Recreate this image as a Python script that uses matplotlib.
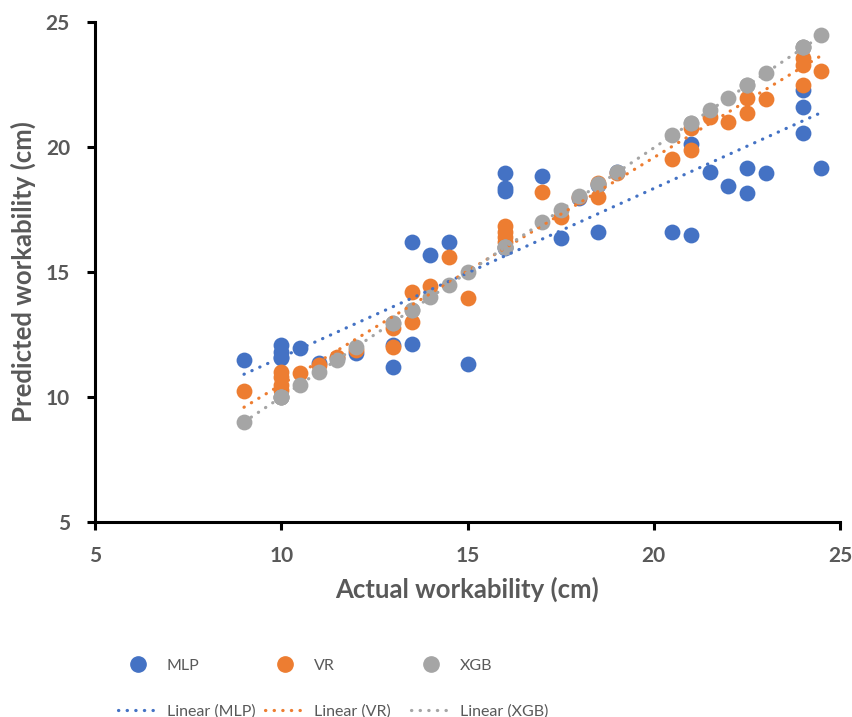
import matplotlib.pyplot as plt
import numpy as np
from matplotlib.lines import Line2D

# actual workability (cm), one entry per sample
actual = [9, 10, 10, 10, 10, 10.5, 11, 11.5, 12, 13, 13, 13.5, 13.5, 14, 14.5, 15,
          16, 16, 16, 16, 17, 17.5, 18, 18.5, 18.5, 19, 20.5, 21, 21, 21.5, 22,
          22.5, 22.5, 23, 24, 24, 24, 24.5]

# predicted workability (cm) per model
mlp = [11.48, 12.08, 11.8, 11.55, 11.6, 11.96, 11.36, 11.56, 11.76, 11.2, 12.1,
       12.12, 16.21, 15.68, 16.21, 11.32, 18.95, 18.35, 18.25, 15.95, 18.85, 16.37,
       17.95, 16.61, 18.5, 19.01, 16.59, 16.48, 20.12, 19.01, 18.45, 19.15, 18.15,
       18.95, 20.57, 21.61, 22.28, 19.17]
vr = [10.24, 11.0, 10.8, 10.5, 10.3, 10.96, 11.3, 11.6, 11.9, 12.01, 12.75,
      13.01, 14.21, 14.44, 15.61, 13.97, 16.85, 16.6, 16.4, 16.2, 18.19, 17.19,
      18.0, 18.01, 18.57, 18.95, 19.51, 19.88, 20.75, 21.21, 21.01, 21.35, 21.97,
      21.92, 22.48, 23.28, 23.55, 23.05]
xgb = [9.0, 10.0, 10.0, 10.0, 10.0, 10.5, 11.0, 11.5, 12.0, 12.97, 12.97,
       13.48, 13.48, 14.01, 14.48, 14.99, 15.99, 15.99, 15.99, 15.99, 16.99, 17.48,
       18.04, 18.51, 18.51, 18.99, 20.48, 20.97, 20.97, 21.48, 21.97, 22.48, 22.48,
       22.97, 23.99, 23.99, 23.99, 24.48]

# linear trendline values at x = 9 and x = 24.5
trend_x = [9, 24.5]
trend_mlp = [10.91, 21.38]
trend_vr = [9.59, 23.66]
trend_xgb = [9.0, 24.45]

names = ['MLP', 'VR', 'XGB']
colors = ['#4472C4', '#ED7D31', '#A5A5A5']
dots = (0, (0.1, 2.6))

plt.rcParams['font.family'] = ['Lato', 'DejaVu Sans']

fig = plt.figure(figsize=(8.52, 7.17), dpi=100)
ax = fig.add_axes([95 / 852, 1 - 522 / 717, 745 / 852, 500 / 717])

legend_x = [118 / 852, 265 / 852, 411 / 852]
for i, (name, pred, trend, col) in enumerate(zip(names, [mlp, vr, xgb],
                                                 [trend_mlp, trend_vr, trend_xgb],
                                                 colors)):
    ax.scatter(actual, pred, s=130, color=col, zorder=2, linewidths=0)
    ax.plot(trend_x, trend, color=col, lw=2.3, linestyle=dots,
            dash_capstyle='round', zorder=3)
    # one small legend per column so the columns sit where they do in the original
    h = [Line2D([], [], marker='o', ms=11, color=col, lw=0),
         Line2D([], [], color=col, lw=2.3, linestyle=dots, dash_capstyle='round')]
    fig.legend(h, [name, 'Linear (%s)' % name], loc='lower left',
               bbox_to_anchor=(legend_x[i], -0.002), frameon=False,
               borderpad=0, borderaxespad=0, fontsize=11.5,
               labelcolor='#595959', handlelength=2.5, handletextpad=0.55,
               labelspacing=1.95)

ax.set_xlim(5, 25)
ax.set_ylim(5, 25)
ax.set_xticks([5, 10, 15, 20, 25])
ax.set_yticks([5, 10, 15, 20, 25])
for s in ['top', 'right']:
    ax.spines[s].set_visible(False)
for s in ['left', 'bottom']:
    ax.spines[s].set_linewidth(2.2)
    ax.spines[s].set_color('black')
ax.tick_params(direction='out', length=6, width=2.2, color='black',
               labelsize=15, labelcolor='#595959')
ax.tick_params(axis='x', pad=11)
ax.tick_params(axis='y', pad=12)
for lab in ax.get_xticklabels() + ax.get_yticklabels():
    lab.set_fontweight('bold')

ax.set_xlabel('Actual workability (cm)', fontsize=18.5, fontweight='bold',
              color='#595959', labelpad=8)
ax.set_ylabel('Predicted workability (cm)', fontsize=18.5, fontweight='bold',
              color='#595959', labelpad=7)

fig.savefig('out.png', dpi=100)
